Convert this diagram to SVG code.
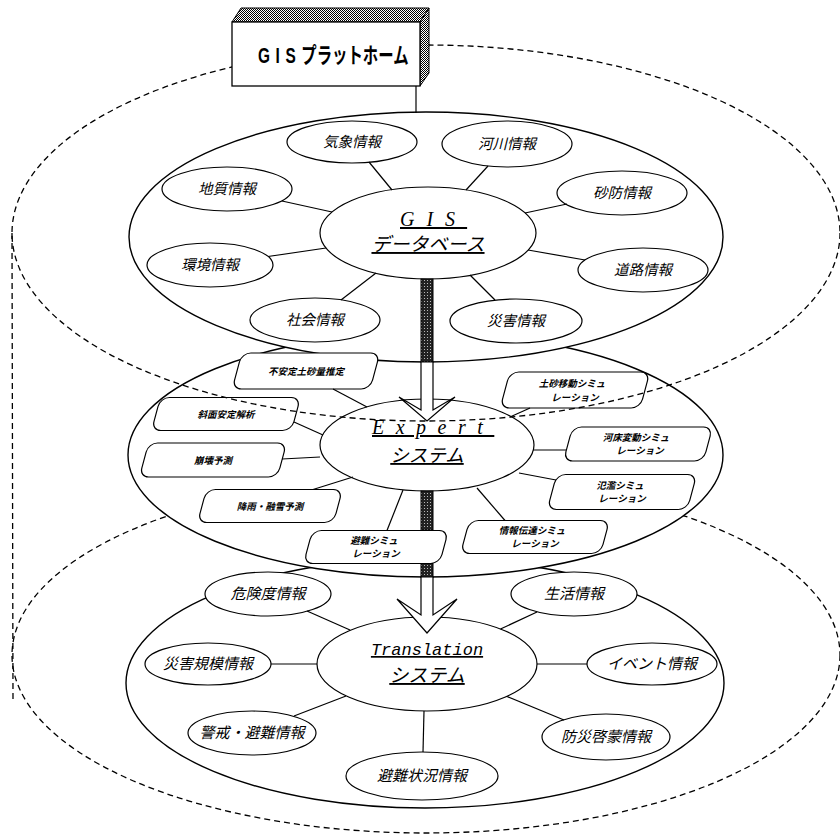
<svg xmlns="http://www.w3.org/2000/svg" width="840" height="840" viewBox="0 0 840 840">
<defs>
<pattern id="chk" width="2" height="2" patternUnits="userSpaceOnUse"><rect width="2" height="2" fill="#fff"/><rect width="1" height="1" fill="#000"/><rect x="1" y="1" width="1" height="1" fill="#000"/></pattern>
<pattern id="dk" width="3" height="3" patternUnits="userSpaceOnUse"><rect width="3" height="3" fill="#222"/><rect x="1" y="1" width="1" height="1" fill="#bbb"/></pattern>
<style>
.dash{fill:none;stroke:#000;stroke-width:1.3;stroke-dasharray:6 4}
.layer{fill:#fff;stroke:#000;stroke-width:1.4}
.nd{fill:#fff;stroke:#000;stroke-width:1.2}
.ln{fill:none;stroke:#000;stroke-width:1.2}
.arw{fill:#fff;stroke:#000;stroke-width:1.2;stroke-linejoin:miter}
.bar{fill:url(#dk);stroke:#000;stroke-width:1}
.t{font-family:"Noto Sans CJK JP","Noto Sans CJK SC",sans-serif;font-style:italic;text-anchor:middle;fill:#000}
.t1{font-size:14.5px}
.t2{font-size:9.5px;font-weight:bold}
.t3{font-size:15px}
.ser{font-family:"Liberation Serif",serif;font-style:italic;font-size:20px;text-decoration:underline}
.jp{font-family:"Noto Sans CJK JP",sans-serif;font-style:italic;font-size:19px;text-anchor:middle;text-decoration:underline}
.mono{font-family:"Liberation Mono",monospace;font-style:italic;font-size:17px;text-anchor:middle;text-decoration:underline}
</style>
</defs>
<rect width="840" height="840" fill="#fff"/>

<g id="platform-lower">
<ellipse class="dash" cx="426" cy="655" rx="414" ry="178"/>
<line class="dash" x1="12" y1="233" x2="13" y2="700"/>
</g>

<g id="layer-translation"><ellipse class="layer" cx="425" cy="683" rx="299" ry="125"/></g>
<g id="layer-expert"><ellipse class="layer" cx="425.5" cy="455" rx="297.5" ry="122"/></g>
<g id="layer-gis"><ellipse class="layer" cx="426" cy="237" rx="297" ry="125"/></g>

<!-- GIS layer nodes -->
<g id="gis-db"><ellipse class="nd" cx="428" cy="233" rx="108" ry="46"/>
<text class="ser" x="400" y="226" letter-spacing="12">GIS</text>
<text class="jp" x="428" y="251">データベース</text></g>
<g id="kisho"><ellipse class="nd" cx="352" cy="142" rx="65" ry="21"/><text class="t t1" x="352" y="147">気象情報</text></g>
<g id="kasen"><ellipse class="nd" cx="507" cy="144" rx="65" ry="23"/><text class="t t1" x="507" y="149">河川情報</text></g>
<g id="chishitsu"><ellipse class="nd" cx="227" cy="189" rx="65" ry="22"/><text class="t t1" x="227" y="194">地質情報</text></g>
<g id="sabo"><ellipse class="nd" cx="622" cy="193" rx="65" ry="22"/><text class="t t1" x="622" y="198">砂防情報</text></g>
<g id="kankyo"><ellipse class="nd" cx="210" cy="265" rx="63" ry="22"/><text class="t t1" x="210" y="270">環境情報</text></g>
<g id="doro"><ellipse class="nd" cx="643" cy="270" rx="65" ry="22"/><text class="t t1" x="643" y="275">道路情報</text></g>
<g id="shakai"><ellipse class="nd" cx="315" cy="320" rx="65" ry="22"/><text class="t t1" x="315" y="325">社会情報</text></g>
<g id="saigai"><ellipse class="nd" cx="516" cy="321" rx="66" ry="22"/><text class="t t1" x="516" y="326">災害情報</text></g>

<!-- Expert layer nodes -->
<g id="expert"><ellipse class="nd" cx="427" cy="445" rx="107" ry="46"/>
<text class="ser" x="372" y="434" letter-spacing="11.5">Expert</text>
<text class="jp" x="427" y="462" style="font-size:18.5px">システム</text></g>
<g id="fuantei"><rect class="nd" x="-69" y="-18" width="138" height="36" rx="9" transform="translate(306,371) skewX(-15)"/><text class="t t2" x="306" y="374.5">不安定土砂量推定</text></g>
<g id="shamen"><rect class="nd" x="-70" y="-16.5" width="140" height="33" rx="9" transform="translate(226,414) skewX(-15)"/><text class="t t2" x="226" y="417.5">斜面安定解析</text></g>
<g id="hokai"><rect class="nd" x="-69" y="-17" width="138" height="34" rx="9" transform="translate(213,460) skewX(-15)"/><text class="t t2" x="213" y="463.5">崩壊予測</text></g>
<g id="kou"><rect class="nd" x="-68" y="-16.5" width="136" height="33" rx="9" transform="translate(270,506) skewX(-15)"/><text class="t t2" x="270" y="509.5">降雨・融雪予測</text></g>
<g id="hinan-sim"><rect class="nd" x="-68" y="-16.5" width="136" height="33" rx="9" transform="translate(376,547) skewX(-15)"/><text class="t t2" x="374" y="544">避難シミュ</text><text class="t t2" x="376" y="557">レーション</text></g>
<g id="dosha"><rect class="nd" x="-70" y="-18" width="140" height="36" rx="9" transform="translate(575,390) skewX(-15)"/><text class="t t2" x="572" y="387">土砂移動シミュ</text><text class="t t2" x="575" y="401">レーション</text></g>
<g id="kasho"><rect class="nd" x="-70" y="-17" width="140" height="34" rx="9" transform="translate(638,444) skewX(-15)"/><text class="t t2" x="636" y="441">河床変動シミュ</text><text class="t t2" x="640" y="454">レーション</text></g>
<g id="hanran"><rect class="nd" x="-70" y="-17.5" width="140" height="35" rx="9" transform="translate(622,492) skewX(-15)"/><text class="t t2" x="620" y="488.5">氾濫シミュ</text><text class="t t2" x="622" y="502">レーション</text></g>
<g id="joho"><rect class="nd" x="-70" y="-16.5" width="140" height="33" rx="9" transform="translate(535,537) skewX(-15)"/><text class="t t2" x="532" y="533.5">情報伝達シミュ</text><text class="t t2" x="535" y="547">レーション</text></g>

<!-- Translation layer nodes -->
<g id="translation"><ellipse class="nd" cx="427" cy="664" rx="110" ry="47"/>
<text class="mono" x="427" y="655">Translation</text>
<text class="jp" x="427" y="682">システム</text></g>
<g id="kiken"><ellipse class="nd" cx="268" cy="594" rx="63" ry="22"/><text class="t t3" x="268" y="599">危険度情報</text></g>
<g id="seikatsu"><ellipse class="nd" cx="574" cy="594" rx="63" ry="22"/><text class="t t3" x="574" y="599">生活情報</text></g>
<g id="kibo"><ellipse class="nd" cx="208" cy="664" rx="63" ry="21"/><text class="t t3" x="208" y="669">災害規模情報</text></g>
<g id="event"><ellipse class="nd" cx="652" cy="664" rx="65" ry="21"/><text class="t t3" x="652" y="669">イベント情報</text></g>
<g id="keikai"><ellipse class="nd" cx="252" cy="733" rx="64" ry="22"/><text class="t t3" x="252" y="738">警戒・避難情報</text></g>
<g id="bosai"><ellipse class="nd" cx="606" cy="737" rx="64" ry="23"/><text class="t t3" x="606" y="742">防災啓蒙情報</text></g>
<g id="hinan-jokyo"><ellipse class="nd" cx="422" cy="776" rx="76" ry="24"/><text class="t t3" x="422" y="781">避難状況情報</text></g>

<g id="connectors">
<line class="ln" x1="416" y1="86" x2="416" y2="113"/>
<!-- GIS -->
<line class="ln" x1="392" y1="190" x2="369" y2="162"/>
<line class="ln" x1="466" y1="190" x2="488" y2="166"/>
<line class="ln" x1="332" y1="212" x2="282" y2="201"/>
<line class="ln" x1="525" y1="213" x2="567" y2="204"/>
<line class="ln" x1="326" y1="248" x2="268" y2="256.5"/>
<line class="ln" x1="528" y1="250" x2="585" y2="260"/>
<line class="ln" x1="376" y1="273" x2="341" y2="300"/>
<line class="ln" x1="470" y1="275" x2="495" y2="300"/>
<!-- Expert -->
<line class="ln" x1="367" y1="407" x2="333" y2="389"/>
<line class="ln" x1="323" y1="435" x2="294" y2="422"/>
<line class="ln" x1="320" y1="457" x2="282" y2="459"/>
<line class="ln" x1="353" y1="477" x2="313" y2="489.5"/>
<line class="ln" x1="403" y1="490" x2="387" y2="530.5"/>
<line class="ln" x1="510" y1="417" x2="530" y2="408"/>
<line class="ln" x1="533" y1="450" x2="566" y2="450"/>
<line class="ln" x1="519" y1="473" x2="556" y2="480"/>
<line class="ln" x1="477" y1="488" x2="505" y2="520.5"/>
<!-- Translation -->
<line class="ln" x1="350" y1="630" x2="307" y2="611"/>
<line class="ln" x1="500.5" y1="629" x2="537" y2="612"/>
<line class="ln" x1="317" y1="664" x2="271" y2="664"/>
<line class="ln" x1="537" y1="664" x2="587" y2="664"/>
<line class="ln" x1="346" y1="696" x2="294" y2="716"/>
<line class="ln" x1="507" y1="696.5" x2="564" y2="720"/>
<line class="ln" x1="424" y1="711" x2="423" y2="752"/>
<!-- flow bars and arrows -->
<rect class="bar" x="421" y="279" width="12" height="83"/>
<polygon class="arw" points="421,362 421,410 399,397 427,421 455,397 433,410 433,362"/>
<rect class="bar" x="421" y="491" width="12" height="39"/>
<rect class="bar" x="421" y="563.5" width="12" height="14"/>
<polygon class="arw" points="421,577 421,615 397,599 427,633 457,599 433,615 433,577"/>
</g>

<g id="platform-upper">
<ellipse class="dash" cx="426" cy="233" rx="414" ry="188"/>
</g>

<g id="gis-platform">
<polygon points="232,22 241,8 429,8 420,22" fill="url(#chk)" stroke="#000" stroke-width="1"/>
<polygon points="420,22 429,8 429,73 420,86" fill="url(#chk)" stroke="#000" stroke-width="1"/>
<rect x="232" y="22" width="188" height="64" fill="#fff" stroke="#000" stroke-width="1.3"/>
<text transform="translate(258,63) scale(0.7,1)" style="font-family:'Liberation Sans','Noto Sans CJK JP',sans-serif;font-weight:bold;font-size:22px"><tspan letter-spacing="8">GIS</tspan><tspan style="font-family:'Noto Sans CJK JP',sans-serif">プラットホーム</tspan></text>
</g>
</svg>
